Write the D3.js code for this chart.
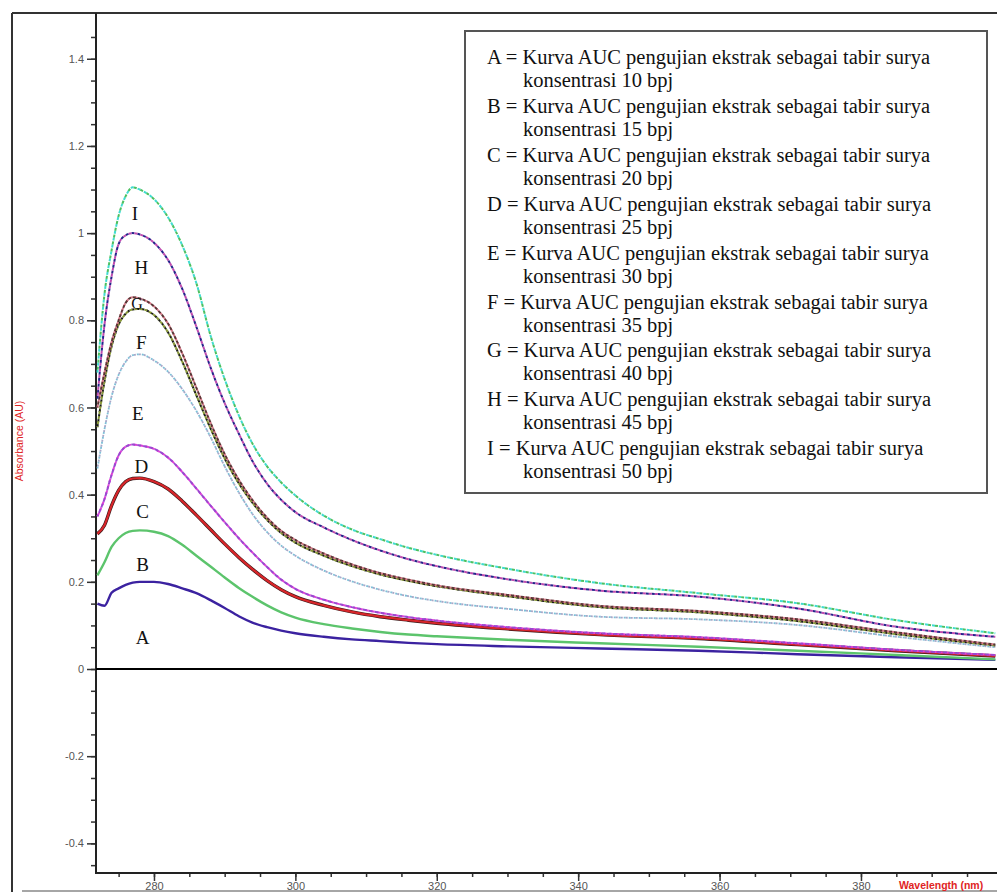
<!DOCTYPE html>
<html>
<head>
<meta charset="utf-8">
<script src="https://cdn.jsdelivr.net/npm/d3@7"></script>
<style>
  body { margin: 0; background: #fff; }
  svg { display: block; }
  .serif { font-family: "Liberation Serif", "Times New Roman", serif; }
  .sans { font-family: "Liberation Sans", Arial, sans-serif; }
</style>
</head>
<body>
<div id="chart-area"></div>
<script>
var width = 997,
    height = 892;

// wavelengths (nm) where the curves were read
var wavelengths = [272, 273, 274, 275, 276, 277, 278, 280, 282, 284, 286, 288, 290, 292, 294, 296, 298, 300, 304, 308, 312, 316, 320, 330, 343, 357, 371, 385, 399];

// absorbance (AU) for each concentration
var curveA = [0.15, 0.145, 0.175, 0.185, 0.193, 0.198, 0.2, 0.2, 0.195, 0.185, 0.174, 0.158, 0.14, 0.121, 0.106, 0.096, 0.088, 0.082, 0.074, 0.068, 0.064, 0.06, 0.057, 0.052, 0.047, 0.042, 0.034, 0.027, 0.021];
var curveB = [0.215, 0.245, 0.28, 0.3, 0.312, 0.317, 0.318, 0.315, 0.305, 0.285, 0.26, 0.235, 0.21, 0.186, 0.165, 0.146, 0.13, 0.118, 0.103, 0.093, 0.085, 0.079, 0.075, 0.067, 0.059, 0.051, 0.042, 0.032, 0.022];
var curveC = [0.31, 0.33, 0.375, 0.41, 0.43, 0.437, 0.438, 0.43, 0.413, 0.385, 0.353, 0.32, 0.287, 0.256, 0.228, 0.203, 0.182, 0.166, 0.146, 0.131, 0.12, 0.112, 0.105, 0.092, 0.079, 0.07, 0.056, 0.042, 0.03];
var curveD = [0.35, 0.39, 0.445, 0.49, 0.51, 0.515, 0.513, 0.505, 0.485, 0.452, 0.414, 0.375, 0.337, 0.3, 0.266, 0.234, 0.205, 0.184, 0.159, 0.142, 0.129, 0.119, 0.111, 0.096, 0.082, 0.073, 0.059, 0.044, 0.032];
var curveE = [0.46, 0.55, 0.625, 0.675, 0.705, 0.72, 0.722, 0.708, 0.682, 0.642, 0.592, 0.532, 0.465, 0.405, 0.354, 0.314, 0.283, 0.26, 0.226, 0.201, 0.182, 0.167, 0.156, 0.138, 0.12, 0.114, 0.101, 0.074, 0.05];
var curveF = [0.555, 0.66, 0.74, 0.79, 0.815, 0.825, 0.826, 0.812, 0.772, 0.705, 0.628, 0.552, 0.483, 0.426, 0.38, 0.342, 0.312, 0.29, 0.26, 0.236, 0.217, 0.202, 0.19, 0.167, 0.142, 0.13, 0.11, 0.08, 0.054];
var curveG = [0.6, 0.68, 0.75, 0.8, 0.84, 0.853, 0.85, 0.832, 0.792, 0.724, 0.645, 0.565, 0.493, 0.434, 0.386, 0.347, 0.317, 0.296, 0.265, 0.24, 0.22, 0.205, 0.192, 0.17, 0.145, 0.133, 0.114, 0.084, 0.056];
var curveH = [0.62, 0.79, 0.9, 0.975, 0.995, 1.0, 0.997, 0.978, 0.938, 0.872, 0.785, 0.692, 0.61, 0.54, 0.475, 0.425, 0.388, 0.36, 0.325, 0.296, 0.272, 0.252, 0.236, 0.206, 0.18, 0.166, 0.139, 0.097, 0.074];
var curveI = [0.68, 0.86, 0.96, 1.04, 1.085, 1.105, 1.1, 1.078, 1.036, 0.972, 0.885, 0.765, 0.665, 0.582, 0.515, 0.465, 0.428, 0.398, 0.352, 0.32, 0.298, 0.278, 0.262, 0.23, 0.197, 0.174, 0.151, 0.112, 0.082];

var curveNames = ["A", "B", "C", "D", "E", "F", "G", "H", "I"];
var curveValues = [curveA, curveB, curveC, curveD, curveE, curveF, curveG, curveH, curveI];
var concentrations = [10, 15, 20, 25, 30, 35, 40, 45, 50];

// letter labels next to the peaks: [wavelength, absorbance]
var labelWl = [278.4, 278.4, 278.4, 278.2, 277.7, 278.2, 277.6, 278.2, 277.3];
var labelAbs = [0.073, 0.241, 0.362, 0.466, 0.587, 0.75, 0.839, 0.922, 1.046];

var yTicks = [-0.4, -0.2, 0, 0.2, 0.4, 0.6, 0.8, 1, 1.2, 1.4];
var xTicks = [280, 300, 320, 340, 360, 380];

// line looks, one per curve
var styles = {
  A: { c1: "#3b22a0", w: 2.4 },
  B: { c1: "#5cc46c", w: 2.4 },
  C: { c1: "#d8262a", w: 2.2, under: "#3a1a1a" },
  D: { c1: "#e040d8", c2: "#9a48d0", w: 2, dash: "4,2" },
  E: { c1: "#7fc0d8", c2: "#a8a8c8", w: 1.8, dash: "2,3" },
  F: { c1: "#1a1a1a", c2: "#8a9a3a", w: 2, dash: "3,2" },
  G: { c1: "#d87a8a", c2: "#5a3434", w: 2, dash: "3,2" },
  H: { c1: "#24248a", c2: "#c04cb0", w: 2, dash: "3,3" },
  I: { c1: "#40dcd0", c2: "#4cc060", w: 2, dash: "3,4" }
};

var svg = d3.select("#chart-area").append("svg")
    .attr("width", width)
    .attr("height", height);

var plotLeft = 96, plotRight = 997, plotTop = 13, plotBottom = 873;

var x = d3.scaleLinear().domain([271.8, 399.24]).range([plotLeft, plotRight]);
var y = d3.scaleLinear().domain([-0.468, 1.505]).range([plotBottom, plotTop]);

// outer frame
svg.append("line").attr("x1", 12).attr("x2", 12).attr("y1", 13).attr("y2", 892)
    .attr("stroke", "#333").attr("stroke-width", 2);
svg.append("line").attr("x1", 12).attr("x2", 997).attr("y1", 13).attr("y2", 13)
    .attr("stroke", "#333").attr("stroke-width", 2);
svg.append("line").attr("x1", 22).attr("x2", 997).attr("y1", 891).attr("y2", 891)
    .attr("stroke", "#888").attr("stroke-width", 1.5);

svg.append("clipPath").attr("id", "plot-clip")
  .append("rect")
    .attr("x", plotLeft).attr("y", plotTop)
    .attr("width", plotRight - plotLeft).attr("height", plotBottom - plotTop);

// y axis, minor ticks every 0.05
var yMinor = svg.append("g").attr("transform", "translate(" + plotLeft + ",0)")
    .call(d3.axisLeft(y).tickValues(d3.range(-0.45, 1.5, 0.05)).tickSize(5).tickFormat(""));
yMinor.select(".domain").remove();
yMinor.selectAll("line").attr("stroke", "#333").attr("stroke-width", 1.5);

var yMajor = svg.append("g").attr("transform", "translate(" + plotLeft + ",0)")
    .call(d3.axisLeft(y).tickValues(yTicks).tickSize(9).tickPadding(3)
      .tickFormat(function(d) { return d === 0 ? "0" : String(+d.toFixed(1)); }));
yMajor.select(".domain").remove();
yMajor.selectAll("line").attr("stroke", "#333").attr("stroke-width", 1.5);
yMajor.selectAll("text")
    .attr("class", "sans")
    .attr("font-size", 11)
    .attr("fill", "#555");

svg.append("line").attr("x1", plotLeft).attr("x2", plotLeft).attr("y1", plotTop).attr("y2", plotBottom + 1)
    .attr("stroke", "#222").attr("stroke-width", 2);

// x axis, minor ticks every 5 nm
var xMinor = svg.append("g").attr("transform", "translate(0," + plotBottom + ")")
    .call(d3.axisBottom(x).tickValues(d3.range(275, 400, 5)).tickSize(4).tickFormat(""));
xMinor.select(".domain").remove();
xMinor.selectAll("line").attr("stroke", "#333").attr("stroke-width", 1.5);
var xMajor = svg.append("g").attr("transform", "translate(0," + plotBottom + ")")
    .call(d3.axisBottom(x).tickValues(xTicks).tickSize(8).tickPadding(1));
xMajor.select(".domain").remove();
xMajor.selectAll("line").attr("stroke", "#333").attr("stroke-width", 1.5);
xMajor.selectAll("text")
    .attr("class", "sans")
    .attr("font-size", 11)
    .attr("fill", "#555");

svg.append("line").attr("x1", plotLeft).attr("x2", plotRight).attr("y1", plotBottom).attr("y2", plotBottom)
    .attr("stroke", "#222").attr("stroke-width", 2);

// axis titles
svg.append("text")
    .attr("class", "sans")
    .attr("transform", "translate(23,441) rotate(-90)")
    .attr("text-anchor", "middle")
    .attr("font-size", 10.5)
    .attr("fill", "#e02424")
    .text("Absorbance (AU)");

svg.append("text")
    .attr("class", "sans")
    .attr("x", 899).attr("y", 889)
    .attr("font-size", 10.5)
    .attr("font-weight", "bold")
    .attr("fill", "#e02424")
    .text("Wavelength (nm)");

// zero line
svg.append("line")
    .attr("x1", plotLeft).attr("x2", plotRight)
    .attr("y1", y(0)).attr("y2", y(0))
    .attr("stroke", "#000").attr("stroke-width", 2);

// curves
var line = d3.line()
    .x(function(d) { return x(d[0]); })
    .y(function(d) { return y(d[1]); })
    .curve(d3.curveMonotoneX);

var curves = svg.append("g").attr("clip-path", "url(#plot-clip)");

curveNames.forEach(function(name, i) {
  var pts = wavelengths.map(function(w, j) { return [w, curveValues[i][j]]; });
  var s = styles[name];
  if (s.under) {
    curves.append("path").datum(pts).attr("d", line)
        .attr("fill", "none").attr("stroke", s.under).attr("stroke-width", s.w + 1.2);
  }
  curves.append("path").datum(pts).attr("d", line)
      .attr("fill", "none")
      .attr("stroke", s.c1)
      .attr("stroke-width", s.w)
      .attr("stroke-dasharray", s.dash || null);
  if (s.c2) {
    var d0 = +s.dash.split(",")[0];
    curves.append("path").datum(pts).attr("d", line)
        .attr("fill", "none")
        .attr("stroke", s.c2)
        .attr("stroke-width", s.w)
        .attr("stroke-dasharray", s.dash)
        .attr("stroke-dashoffset", -d0);
  }
});

// curve letters
svg.append("g").selectAll("text")
    .data(curveNames)
    .enter()
    .append("text")
    .attr("class", "serif")
    .attr("x", function(d, i) { return x(labelWl[i]); })
    .attr("y", function(d, i) { return y(labelAbs[i]); })
    .attr("dy", "0.35em")
    .attr("text-anchor", "middle")
    .attr("font-size", function(d) { return d === "G" ? 16 : 19; })
    .attr("fill", "#111")
    .text(function(d) { return d; });

// legend box
var legend = svg.append("g");
legend.append("rect")
    .attr("x", 465).attr("y", 31)
    .attr("width", 522).attr("height", 462)
    .attr("fill", "#fff")
    .attr("stroke", "#555")
    .attr("stroke-width", 2);

curveNames.forEach(function(name, i) {
  var base = 64 + i * 48.9;
  legend.append("text")
      .attr("class", "serif")
      .attr("x", 487).attr("y", base)
      .attr("font-size", 20.5)
      .attr("fill", "#111")
      .text(name + " = Kurva AUC pengujian ekstrak sebagai tabir surya");
  legend.append("text")
      .attr("class", "serif")
      .attr("x", 523).attr("y", base + 23)
      .attr("font-size", 20.5)
      .attr("fill", "#111")
      .text("konsentrasi " + concentrations[i] + " bpj");
});
</script>
</body>
</html>
